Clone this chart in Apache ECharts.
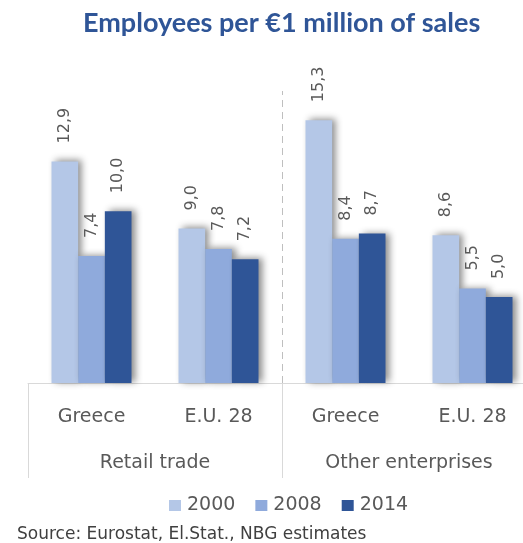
<!DOCTYPE html>
<html>
<head>
<meta charset="utf-8">
<script src="https://cdn.jsdelivr.net/npm/echarts@6/dist/echarts.min.js"></script>
<style>html,body{margin:0;padding:0;background:#fff;overflow:hidden;width:523px;height:543px;}#c{width:536px;height:543px;}</style>
</head>
<body>
<div id="c"></div>
<script>
const countries = ['Greece', 'E.U. 28', 'Greece', 'E.U. 28'];
const groups = ['Retail trade', 'Other enterprises'];
const years = ['2000', '2008', '2014'];
const v2000 = [12.9, 9.0, 15.3, 8.6];
const v2008 = [7.4, 7.8, 8.4, 5.5];
const v2014 = [10.0, 7.2, 8.7, 5.0];
const colors = ['#B4C7E7', '#8FAADC', '#2F5597'];

const FONT = '"DejaVu Sans"';
const chart = echarts.init(document.getElementById('c'), null, {renderer: 'canvas'});
const mk = (name, data, color) => ({
  name: name, type: 'bar', data: data, xAxisIndex: 0, yAxisIndex: 0,
  barGap: '0%', barCategoryGap: '37%',
  itemStyle: {color: color, shadowBlur: 7, shadowOffsetX: 4, shadowOffsetY: -1, shadowColor: 'rgba(0,0,0,0.45)'},
  label: {show: true, position: 'top', rotate: 90, align: 'left', verticalAlign: 'middle', distance: 18,
    color: '#595959', fontSize: 16, fontFamily: FONT,
    formatter: p => p.value.toFixed(1).replace('.', ',')}
});
chart.setOption({
  animation: false,
  title: [
    {text: 'Employees per €1 million of sales', left: 78, top: 5,
      textStyle: {color: '#2F5597', fontSize: 27, fontWeight: 'bold', fontFamily: 'Lato'}},
    {text: 'Source: Eurostat, El.Stat., NBG estimates', left: 12, top: 521,
      textStyle: {color: '#404040', fontSize: 17, fontWeight: 'normal', fontFamily: FONT}}
  ],
  legend: {top: 491, left: 164, itemWidth: 12, itemHeight: 11, itemGap: 20,
    icon: 'rect', data: years,
    textStyle: {color: '#595959', fontSize: 19, fontFamily: FONT, padding: [0, 0, 0, 1]}},
  grid: {left: 28, top: 91, right: 0, height: 292},
  xAxis: [
    {type: 'category', data: countries, position: 'bottom',
      axisLine: {lineStyle: {color: '#D9D9D9', width: 1}},
      axisTick: {show: false},
      axisLabel: {margin: 25, color: '#595959', fontSize: 19, fontFamily: FONT}},
    {type: 'category', data: groups, position: 'bottom',
      axisLine: {show: false},
      axisTick: {show: true, length: 95, interval: 0, lineStyle: {color: '#D9D9D9', width: 1}},
      axisLabel: {margin: 71, color: '#595959', fontSize: 19, fontFamily: FONT}},
    {type: 'value', min: 0, max: 2, show: false}
  ],
  yAxis: {type: 'value', min: 0, max: 17, show: false, splitLine: {show: false}},
  series: [
    mk(years[0], v2000, colors[0]), mk(years[1], v2008, colors[1]), mk(years[2], v2014, colors[2]),
    {type: 'scatter', xAxisIndex: 2, data: [], silent: true,
      markLine: {symbol: 'none', silent: true, label: {show: false},
        lineStyle: {color: '#BFBFBF', type: [7, 5], width: 1},
        data: [{xAxis: 1}]}}
  ]
});
</script>
</body>
</html>
